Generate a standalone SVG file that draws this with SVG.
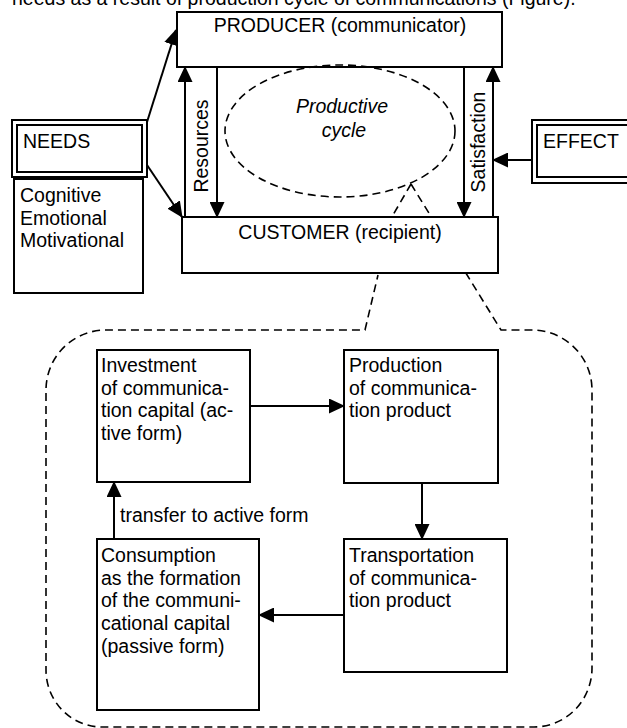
<svg xmlns="http://www.w3.org/2000/svg" width="627" height="728" viewBox="0 0 627 728">
<defs>
<style>
text{font-family:"Liberation Sans",Arial,sans-serif;font-size:19.5px;fill:#000}
.box{fill:#fff;stroke:#000;stroke-width:2}
.ln{fill:none;stroke:#000;stroke-width:2}
.dash{fill:none;stroke:#000;stroke-width:1.6;stroke-dasharray:8 5}
.it{font-style:italic}
</style>
<marker id="ah" markerUnits="userSpaceOnUse" markerWidth="16" markerHeight="15" viewBox="0 0 16 15" refX="15" refY="7.5" orient="auto">
<path d="M0,0 L16,7.5 L0,15 z" fill="#000"/>
</marker>
</defs>
<rect width="627" height="728" fill="#fff"/>
<text x="12" y="5">needs as a result of production cycle of communications (Figure).</text>

<g id="cycle-outline">
<path class="dash" d="M411,184 L393,215"/>
<path class="dash" d="M411,184 L501,330 L532,330 A60,60 0 0 1 592,390 L592,668 A58,59 0 0 1 534,727 L102,727 A56,57 0 0 1 46,670 L46,390 A60,60 0 0 1 106,330 L365,330 L378,275"/>
</g>

<g id="connectors">
<line class="ln" x1="147" y1="122" x2="176" y2="30" marker-end="url(#ah)"/>
<line class="ln" x1="145" y1="162" x2="182" y2="217" marker-end="url(#ah)"/>
<line class="ln" x1="185" y1="217" x2="185" y2="67" marker-end="url(#ah)"/>
<line class="ln" x1="217" y1="67" x2="217" y2="217" marker-end="url(#ah)"/>
<line class="ln" x1="464" y1="67" x2="464" y2="217" marker-end="url(#ah)"/>
<line class="ln" x1="493" y1="217" x2="493" y2="67" marker-end="url(#ah)"/>
<line class="ln" x1="536" y1="160" x2="493" y2="160" marker-end="url(#ah)"/>
<line class="ln" x1="250" y1="406" x2="344" y2="406" marker-end="url(#ah)"/>
<line class="ln" x1="422" y1="483" x2="422" y2="539" marker-end="url(#ah)"/>
<line class="ln" x1="344" y1="615" x2="259" y2="615" marker-end="url(#ah)"/>
<line class="ln" x1="114" y1="539" x2="114" y2="482" marker-end="url(#ah)"/>
<text x="120" y="522">transfer to active form</text>
<text transform="translate(208,146) rotate(-90)" text-anchor="middle">Resources</text>
<text transform="translate(485,142) rotate(-90)" text-anchor="middle">Satisfaction</text>
</g>

<g id="producer">
<rect class="box" x="177" y="12" width="325" height="55"/>
<text x="340" y="32" text-anchor="middle">PRODUCER (communicator)</text>
</g>

<g id="productive-cycle">
<ellipse class="dash" cx="340" cy="131" rx="115" ry="66"/>
<text class="it" x="342" y="113" text-anchor="middle">Productive</text>
<text class="it" x="344" y="137" text-anchor="middle">cycle</text>
</g>

<g id="customer">
<rect class="box" x="182" y="217" width="316" height="56"/>
<text x="340" y="239" text-anchor="middle">CUSTOMER (recipient)</text>
</g>

<g id="needs">
<rect class="box" x="12" y="120" width="135" height="57"/>
<rect class="box" x="17" y="125" width="125" height="47"/>
<text x="23" y="148">NEEDS</text>
</g>

<g id="needs-types">
<rect class="box" x="14" y="179" width="129" height="114"/>
<text x="20" y="202">Cognitive<tspan x="20" dy="22.7">Emotional</tspan><tspan x="20" dy="22.7">Motivational</tspan></text>
</g>

<g id="effect">
<rect class="box" x="532" y="120" width="100" height="63"/>
<rect class="box" x="537" y="125" width="95" height="52"/>
<text x="543" y="148">EFFECT</text>
</g>

<g id="investment">
<rect class="box" x="97" y="350" width="153" height="132"/>
<text x="101" y="372">Investment<tspan x="101" dy="22.7">of communica-</tspan><tspan x="101" dy="22.7">tion capital (ac-</tspan><tspan x="101" dy="22.7">tive form)</tspan></text>
</g>

<g id="production">
<rect class="box" x="344" y="350" width="154" height="133"/>
<text x="349" y="372">Production<tspan x="349" dy="22.7">of communica-</tspan><tspan x="349" dy="22.7">tion product</tspan></text>
</g>

<g id="transportation">
<rect class="box" x="344" y="539" width="163" height="133"/>
<text x="349" y="562">Transportation<tspan x="349" dy="22.7">of communica-</tspan><tspan x="349" dy="22.7">tion product</tspan></text>
</g>

<g id="consumption">
<rect class="box" x="97" y="539" width="162" height="171"/>
<text x="101" y="562">Consumption<tspan x="101" dy="22.7">as the formation</tspan><tspan x="101" dy="22.7">of the communi-</tspan><tspan x="101" dy="22.7">cational capital</tspan><tspan x="101" dy="22.7">(passive form)</tspan></text>
</g>
</svg>
